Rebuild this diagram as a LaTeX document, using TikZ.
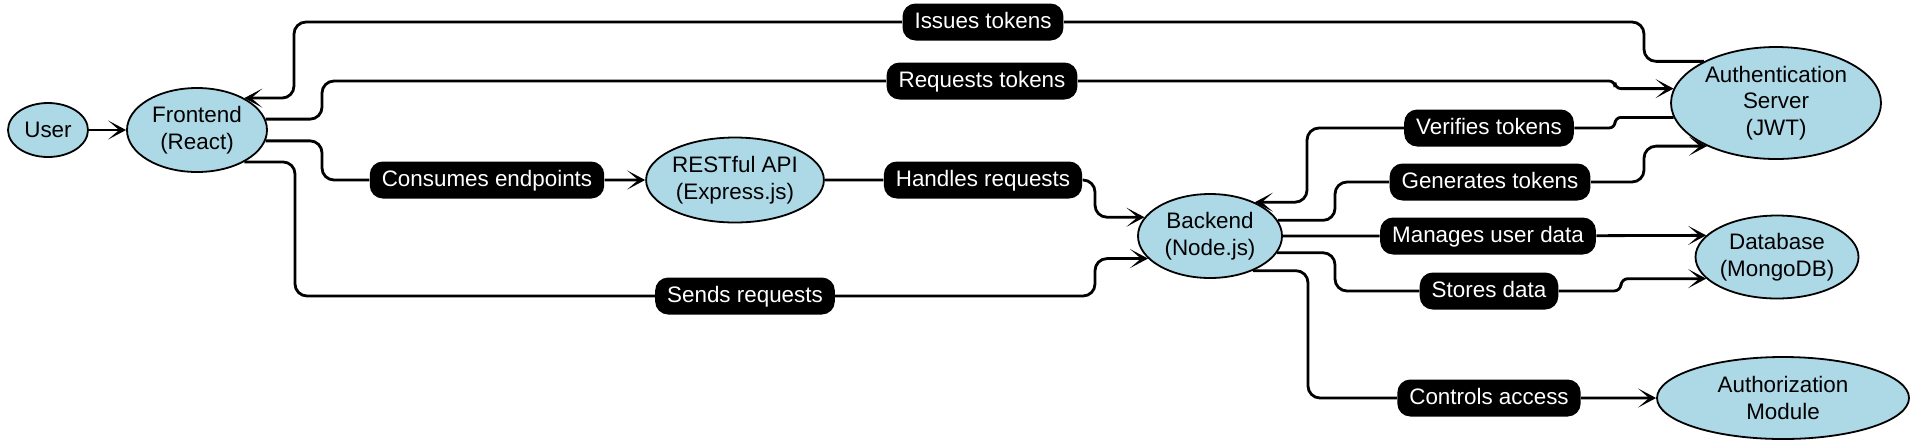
\documentclass[tikz,border=0pt]{standalone}
\usepackage{fontspec}
\setmainfont{Liberation Sans}
\usetikzlibrary{shapes.geometric}
\usetikzlibrary{arrows.meta}
\definecolor{lightblue}{HTML}{ADD8E6}

\begin{document}
\begin{tikzpicture}[
    x=0.5pt, y=-0.5pt,
    font=\fontsize{11.2}{13.3}\selectfont,
    part/.style={ellipse, draw, line width=0.9pt, fill=lightblue, inner sep=0pt, align=center},
    tag/.style={fill=black, text=white, rounded corners=6.5pt, inner xsep=6pt, inner ysep=0pt,
      minimum height=18.5pt, text height=8.5pt, text depth=2.5pt},
    link/.style={line width=1.4pt, rounded corners=6pt},
    flow/.style={-{Stealth[length=9pt, width=9.5pt, inset=5.5pt]}},
    % every node/.append style={draw=red},
  ]
  \useasboundingbox (0,0) rectangle (1910,446);

  \node[part, minimum width=40pt, minimum height=27pt] (user) at (48,130) {User};
  \node[part, minimum width=70pt, minimum height=42pt] (front) at (197,130) {Frontend\\(React)};
  \node[part, minimum width=88pt, minimum height=42.5pt] (rest) at (735,180) {RESTful API\\(Express.js)};
  \node[part, minimum width=72pt, minimum height=42pt] (back) at (1210,236) {Backend\\(Node.js)};
  \node[part, minimum width=105pt, minimum height=56pt] (auth) at (1776,103) {Authentication\\Server\\(JWT)};
  \node[part, minimum width=81.5pt, minimum height=41.5pt] (db) at (1777,257) {Database\\(MongoDB)};
  \node[part, minimum width=126pt, minimum height=41pt] (authz) at (1783,398) {Authorization\\Module};

  \node[tag] (issues) at (983,22) {Issues tokens};
  \node[tag] (reqtok) at (982,81) {Requests tokens};
  \node[tag] (consume) at (487,180) {Consumes endpoints};
  \node[tag] (handle) at (983,180) {Handles requests};
  \node[tag] (sends) at (745,296) {Sends requests};
  \node[tag] (verify) at (1489,128) {Verifies tokens};
  \node[tag] (generate) at (1490,182) {Generates tokens};
  \node[tag] (manage) at (1488,236) {Manages user data};
  \node[tag] (store) at (1489,291) {Stores data};
  \node[tag] (control) at (1489,398) {Controls access};

  \draw[link, flow] (user) -- (front);
  \draw[link, flow] (auth.150) -| (1644,22) -- (issues) -- (294,22) |- (front.34);
  \draw[link, flow] (front.9) -| (322,81) -- (reqtok) [rounded corners=3pt] -- (1615,81) |- (auth.172);
  \draw[link, flow] (front.-9) -| (322,180) -- (consume) -- (rest);
  \draw[link, flow] (rest) -- (handle) -- (1095,180) |- (back.164);
  \draw[link, flow] (front.-34) -| (295,296) -- (sends) -- (1095,296) |- (back.200);
  \draw[link, flow, rounded corners=3pt] (auth.188) -| (1615,128) -- (verify)
    [rounded corners=6pt] -- (1307,128) |- (back.37);
  \draw[link, flow] (back.13) -| (1335,182) -- (generate) -- (1644,182) |- (auth.212);
  \draw[link, flow] (back.east) -- (manage) -- (db.163);
  \draw[link, flow] (back.-14) -| (1335,291) -- (store) [rounded corners=3.5pt] -- (1621,291) |- (db.197);
  \draw[link, flow] (back.-39) -| (1308,398) -- (control) -- (authz);
\end{tikzpicture}
\end{document}
